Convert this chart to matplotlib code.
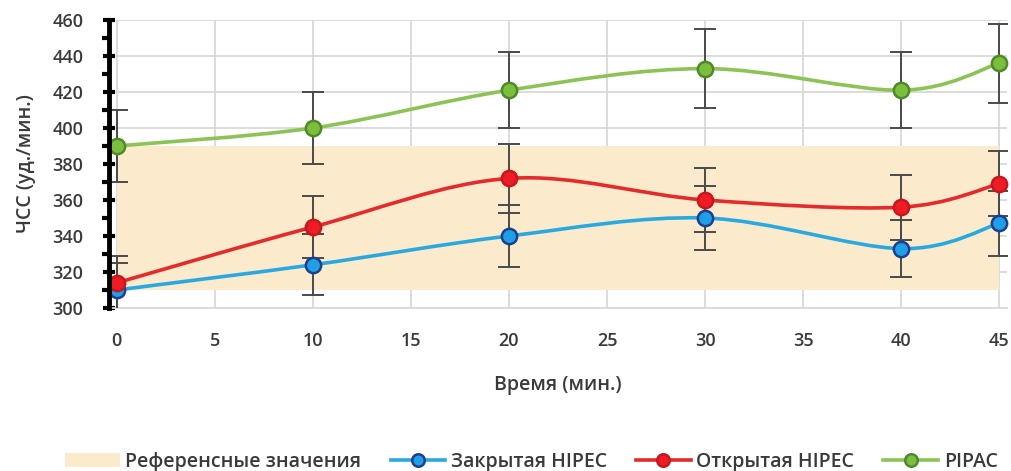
#!/usr/bin/env python3
"""Heart rate (ЧСС) over time for three procedures, with reference band."""

import matplotlib
matplotlib.use("Agg")
import matplotlib.pyplot as plt
from matplotlib.path import Path
from matplotlib.patches import PathPatch, Patch
from matplotlib.lines import Line2D
from matplotlib.ticker import MultipleLocator

plt.rcParams["font.family"] = ["Open Sans", "DejaVu Sans"]

TIME = [0, 10, 20, 30, 40, 45]

CLOSED_HIPEC = [310, 324, 340, 350, 333, 347]
CLOSED_HIPEC_ERR = [15, 17, 17, 18, 16, 18]

OPEN_HIPEC = [314, 345, 372, 360, 356, 369]
OPEN_HIPEC_ERR = [15, 17, 19, 18, 18, 18]

PIPAC = [390, 400, 421, 433, 421, 436]
PIPAC_ERR = [20, 20, 21, 22, 21, 22]

REF_LOW, REF_HIGH = 310, 390

LABELS = ["Референсные значения", "Закрытая HIPEC", "Открытая HIPEC", "PIPAC"]

TEXT = "#3a3a3a"


def smooth_path(xs, ys):
    """Excel-style smoothed line as a cubic Bezier path (Catmull-Rom tangents)."""
    pts = list(zip(xs, ys))
    verts = [pts[0]]
    codes = [Path.MOVETO]
    n = len(pts)
    for i in range(n - 1):
        p0 = pts[i - 1] if i > 0 else pts[i]
        p1 = pts[i]
        p2 = pts[i + 1]
        p3 = pts[i + 2] if i + 2 < n else pts[i + 1]
        c1 = (p1[0] + (p2[0] - p0[0]) / 6, p1[1] + (p2[1] - p0[1]) / 6)
        c2 = (p2[0] - (p3[0] - p1[0]) / 6, p2[1] - (p3[1] - p1[1]) / 6)
        verts += [c1, c2, p2]
        codes += [Path.CURVE4] * 3
    return Path(verts, codes)


fig = plt.figure(figsize=(10.12, 4.71), dpi=100)
ax = fig.add_axes([109 / 1012, 1 - 308 / 471, (1007 - 109) / 1012, (308 - 20) / 471])

ax.fill_between([0, 45], REF_LOW, REF_HIGH, color="#fbebcc", lw=0, zorder=1)

series = [
    (CLOSED_HIPEC, CLOSED_HIPEC_ERR, "#2aa9e0", "#1e9fe8", "#1d3f8c"),
    (OPEN_HIPEC, OPEN_HIPEC_ERR, "#e52a2c", "#ee1c25", "#c8161c"),
    (PIPAC, PIPAC_ERR, "#8cc355", "#7cbf3d", "#4f8a2a"),
]

handles = [Patch(facecolor="#fbebcc", edgecolor="none")]
for vals, err, lc, fc, ec in series:
    ax.errorbar(TIME, vals, yerr=err, fmt="none", ecolor="#4a4a4a",
                elinewidth=1.4, capsize=8, capthick=1.4, zorder=3)
for vals, err, lc, fc, ec in series:
    ax.add_patch(PathPatch(smooth_path(TIME, vals), fill=False, edgecolor=lc,
                           lw=2.6, zorder=4, capstyle="round"))
    ax.plot(TIME, vals, ls="none", marker="o", ms=11, mfc=fc, mec=ec,
            mew=1.8, zorder=5, clip_on=False)
    handles.append(Line2D([0], [0], color=lc, lw=2.6, marker="o", ms=9,
                          mfc=fc, mec=ec, mew=1.8))

ax.set_xlim(-0.4, 45.4)
ax.set_ylim(300, 460)
ax.xaxis.set_major_locator(MultipleLocator(5))
ax.yaxis.set_major_locator(MultipleLocator(20))
ax.yaxis.set_minor_locator(MultipleLocator(10))
ax.grid(True, which="major", color="#d9d9d9", lw=1.3, zorder=0)
ax.set_axisbelow(True)

for side in ("top", "right"):
    ax.spines[side].set_visible(False)
ax.spines["bottom"].set_color("#d9d9d9")
ax.spines["bottom"].set_linewidth(1.3)
ax.spines["left"].set_color("black")
ax.spines["left"].set_linewidth(3.5)
ax.spines["left"].set_zorder(6)

ax.tick_params(axis="x", length=0, pad=17, labelsize=13, labelcolor=TEXT)
ax.tick_params(axis="y", which="major", direction="inout", length=9, width=3,
               color="black", pad=14, labelsize=13, labelcolor=TEXT)
ax.tick_params(axis="y", which="minor", direction="out", length=5, width=3,
               color="black")
for lab in ax.get_xticklabels() + ax.get_yticklabels():
    lab.set_fontweight("semibold")

ax.set_xlabel("Время (мин.)", fontsize=14, fontweight="semibold", color=TEXT,
              labelpad=18)
ax.set_ylabel("ЧСС (уд./мин.)", fontsize=14, fontweight="semibold", color=TEXT,
              labelpad=12)

fig.legend(handles, LABELS, loc="center", bbox_to_anchor=(0.525, 1 - 462 / 471),
           ncol=4, frameon=False, handlelength=2.8,
           handletextpad=0.3, columnspacing=1.5,
           prop={"weight": "semibold", "size": 14})
for t in fig.legends[0].get_texts():
    t.set_color(TEXT)

fig.savefig("out.png", dpi=100)
